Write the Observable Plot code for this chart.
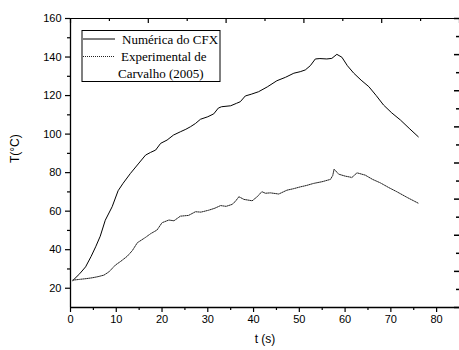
<!DOCTYPE html>
<html>
<head>
<meta charset="utf-8">
<script src="https://cdn.jsdelivr.net/npm/d3@7"></script>
<script src="https://cdn.jsdelivr.net/npm/@observablehq/plot@0.6"></script>
<style>
  html, body { margin: 0; padding: 0; background: #fff; overflow: hidden; }
</style>
</head>
<body>
<div id="chart"></div>
<script>
// Series: Numérica do CFX (solid)
const numT = [0.5, 2, 3.3, 4.5, 5.5, 6.5, 7.6, 9.1, 10.4, 11.5, 13.1, 14.8, 16.4, 17.5, 18.6, 19.7, 21.1, 22.5, 24, 25.2, 26.2, 27.3, 28.4, 30, 31.3, 32.3, 33, 35, 36.3, 37.1, 38.2, 39.5, 41.1, 43, 45.1, 47, 48.8, 50.2, 51.3, 52.4, 53.5, 54.5, 56, 57.1, 58.2, 59.3, 60.5, 61.9, 63.5, 65.2, 66.8, 68.4, 70.2, 72.1, 74, 76];
const numTemp = [24, 27.5, 31.1, 36.5, 41.5, 47, 55.3, 62.3, 70.6, 74.5, 79.6, 84.5, 89.1, 90.5, 91.7, 95.2, 96.9, 99.5, 101.2, 102.5, 103.8, 105.5, 107.7, 109, 110.5, 113.5, 114.2, 114.7, 116, 116.8, 119.8, 120.7, 122, 124.5, 127.7, 129.5, 131.6, 132.4, 133.3, 135.5, 139, 139.2, 139, 139.3, 141.4, 139.9, 135.5, 131.6, 128, 124.6, 120, 115.1, 111, 107.3, 103, 98.6];

// Series: Experimental de Carvalho (2005) (dotted)
const expT = [0.5, 2, 3.5, 4.7, 6, 7.3, 8.4, 9.8, 11, 12.4, 13.5, 14.6, 16.4, 17.5, 18.9, 20, 21.5, 22.6, 24, 25.8, 27.3, 28.5, 30.2, 31.5, 32.8, 34, 35.3, 36, 36.8, 37.9, 39.7, 40.8, 41.8, 42.6, 43.7, 45.5, 47.3, 48.8, 50.2, 51.5, 53.1, 55, 56.8, 57.3, 57.6, 58.6, 60, 61.5, 62.6, 64.4, 66, 67.7, 69.5, 71.3, 73.5, 76.1];
const expTemp = [24.2, 24.6, 25, 25.4, 26, 26.8, 28.5, 32, 34, 36.6, 39.5, 43.6, 46.4, 48.3, 50.2, 54, 55.4, 55, 57.4, 57.8, 59.7, 59.5, 60.5, 61.5, 62.9, 62.5, 63.5, 65, 67.5, 66.1, 65.4, 67.5, 70.1, 69.3, 69.5, 68.9, 70.9, 71.7, 72.6, 73.3, 74.4, 75.3, 76.5, 78.5, 81.8, 79.2, 78.2, 77.5, 79.9, 78.7, 76.5, 74.7, 72.3, 70.1, 67.2, 64];

// Axes
const xDomain = [0, 85];
const yDomain = [10, 160];
const xTicks = [0, 10, 20, 30, 40, 50, 60, 70, 80];
const xMinor = [5, 15, 25, 35, 45, 55, 65, 75];
const yTicks = [20, 40, 60, 80, 100, 120, 140, 160];
const yMinor = [30, 50, 70, 90, 110, 130, 150];

const xLabel = "t (s)";
const yLabel = "T(°C)";
const legendLabels = ["Numérica do CFX", "Experimental de", "Carvalho (2005)"];

// layout
const W = 459, H = 350, mL = 70, mR = 0, mT = 18, mB = 43;
const unitsPerPxX = (xDomain[1] - xDomain[0]) / (W - mL - mR);
const unitsPerPxY = (yDomain[1] - yDomain[0]) / (H - mT - mB);

// secondary (unlabelled) top / right tick marks: 10 and 16 divisions of the frame
const topMajor = d3.range(0, 11, 2).map(i => xDomain[0] + i * (xDomain[1] - xDomain[0]) / 10);
const topMinor = d3.range(1, 10, 2).map(i => xDomain[0] + i * (xDomain[1] - xDomain[0]) / 10);
const rightMajor = d3.range(0, 17, 2).map(i => yDomain[0] + i * (yDomain[1] - yDomain[0]) / 16);
const rightMinor = d3.range(1, 16, 2).map(i => yDomain[0] + i * (yDomain[1] - yDomain[0]) / 16);

const num = numT.map((t, i) => ({t, T: numTemp[i]}));
const exp = expT.map((t, i) => ({t, T: expTemp[i]}));

const blank = () => "";
const sans = "'Liberation Sans', Arial, sans-serif";

const chart = Plot.plot({
  width: W,
  height: H,
  marginLeft: mL,
  marginRight: mR,
  marginTop: mT,
  marginBottom: mB,
  style: { fontFamily: sans, fontSize: "11px", color: "#000", background: "#fff", overflow: "visible" },
  x: { domain: xDomain },
  y: { domain: yDomain },
  marks: [
    // spines
    Plot.ruleX([xDomain[0]], { stroke: "#000", strokeWidth: 1.3 }),
    Plot.ruleY([yDomain[0]], { stroke: "#000", strokeWidth: 1.3 }),
    Plot.ruleY([yDomain[1]], { stroke: "#000", strokeWidth: 1 }),
    // bottom axis
    Plot.axisX({ anchor: "bottom", ticks: xTicks, tickSize: 5, tickPadding: 3, tickFormat: d => d, label: null, fontSize: 11, stroke: "#000", strokeWidth: 1.2 }),
    Plot.axisX({ anchor: "bottom", ticks: xMinor, tickSize: 3, tickFormat: blank, label: null, stroke: "#000", strokeWidth: 1.2 }),
    // left axis
    Plot.axisY({ anchor: "left", ticks: yTicks, tickSize: 5, tickPadding: 4, tickFormat: d => d, label: null, fontSize: 11, stroke: "#000", strokeWidth: 1.2 }),
    Plot.axisY({ anchor: "left", ticks: yMinor, tickSize: 3, tickFormat: blank, label: null, stroke: "#000", strokeWidth: 1.2 }),
    // top inward ticks
    Plot.ruleX(topMajor, { y1: yDomain[1], y2: yDomain[1] - 5 * unitsPerPxY, stroke: "#000", strokeWidth: 1.2 }),
    Plot.ruleX(topMinor, { y1: yDomain[1], y2: yDomain[1] - 3 * unitsPerPxY, stroke: "#000", strokeWidth: 1.2 }),
    // right inward ticks
    Plot.ruleY(rightMajor, { x1: xDomain[1] - 5 * unitsPerPxX, x2: xDomain[1], stroke: "#000", strokeWidth: 1.5 }),
    Plot.ruleY(rightMinor, { x1: xDomain[1] - 3 * unitsPerPxX, x2: xDomain[1], stroke: "#000", strokeWidth: 1.5 }),
    // axis titles
    Plot.text([xLabel], { frameAnchor: "bottom", dy: 35, fontSize: 12, fill: "#000" }),
    Plot.text([yLabel], { frameAnchor: "left", dx: -55, rotate: -90, fontSize: 12, fill: "#000" }),
    // series
    Plot.line(num, { x: "t", y: "T", stroke: "#000", strokeWidth: 1 }),
    Plot.line(exp, { x: "t", y: "T", stroke: "#222", strokeWidth: 1, strokeDasharray: "1,1" })
  ]
});

document.getElementById("chart").appendChild(chart);

// Legend box (pixel layout inside the plot's SVG)
const svg = d3.select(chart);
const lg = svg.append("g")
  .attr("font-family", "'Liberation Serif', 'Times New Roman', serif")
  .attr("font-size", 13)
  .attr("text-anchor", "start")
  .attr("fill", "#000");
lg.append("rect").attr("x", 82).attr("y", 30.5).attr("width", 138).attr("height", 51)
  .attr("fill", "#fff").attr("stroke", "#000").attr("stroke-width", 1);
lg.append("line").attr("x1", 83).attr("x2", 115).attr("y1", 39).attr("y2", 39)
  .attr("stroke", "#000").attr("stroke-width", 1);
lg.append("line").attr("x1", 83).attr("x2", 115).attr("y1", 56.5).attr("y2", 56.5)
  .attr("stroke", "#222").attr("stroke-width", 1).attr("stroke-dasharray", "1,1");
lg.append("text").attr("x", 122).attr("y", 44).attr("text-anchor", "start").text(legendLabels[0]);
lg.append("text").attr("x", 121).attr("y", 61).attr("text-anchor", "start").text(legendLabels[1]);
lg.append("text").attr("x", 118).attr("y", 77.5).attr("text-anchor", "start").text(legendLabels[2]);
</script>
</body>
</html>
